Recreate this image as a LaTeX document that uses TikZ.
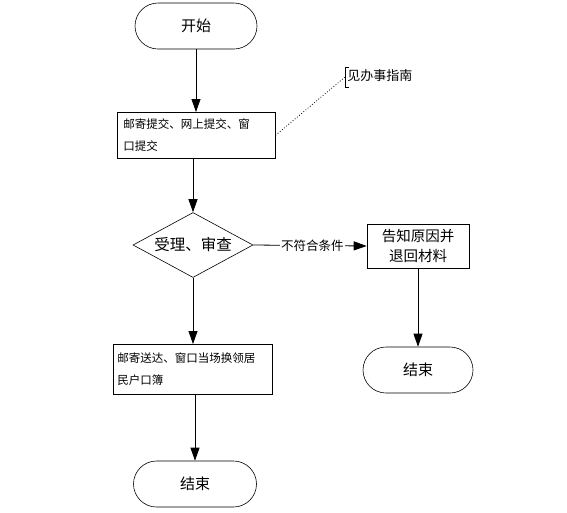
\documentclass[tikz,border=0pt]{standalone}
\usepackage{fontspec}
\setmainfont{Noto Sans CJK SC}
\usetikzlibrary{arrows.meta,shapes.geometric,shapes.misc,positioning}
\begin{document}
\begin{tikzpicture}[x=1pt,y=-1pt,
  term/.style={draw,rounded rectangle,minimum width=122pt,minimum height=46pt,inner sep=0pt,font=\fontsize{15}{18}\selectfont},
  procbox/.style={draw,rectangle,anchor=north west,inner sep=0pt,align=left,font=\fontsize{11.5}{22}\selectfont},
  decide/.style={draw,diamond,aspect=1.85,minimum width=120pt,minimum height=65pt,inner sep=0pt,font=\fontsize{15.5}{18}\selectfont},
  flow/.style={-{Triangle[length=13pt,width=9pt]},line width=0.8pt},
  line width=0.6pt]
\useasboundingbox (0,0) rectangle (567,512);
\fill[white] (0,0) rectangle (567,512);
\node[term] (start) at (196,26) {开始};
\node[procbox,minimum width=158pt,minimum height=46pt,text width=150pt] (sub) at (117,112) {\hspace*{2pt}邮寄提交、网上提交、窗\\\hspace*{2pt}口提交};
\node[decide] (chk) at (193,245) {受理、审查};
\node[draw,rectangle,minimum width=102pt,minimum height=44pt,inner sep=0pt,align=center,font=\fontsize{14.5}{20}\selectfont] (rej) at (418,246) {告知原因并\\退回材料};
\node[term,minimum width=110pt] (end2) at (418,370) {结束};
\node[procbox,minimum width=159pt,minimum height=50pt,text width=155pt] (del) at (113,344) {\hspace*{2pt}邮寄送达、窗口当场换领居\\\hspace*{2pt}民户口簿};
\node[term,minimum width=123pt] (end1) at (195,484) {结束};
% annotation
\coordinate (ann) at (345,77);
\draw (349,67) -- (345,67) -- (345,87) -- (349,87);
\node[anchor=west,inner sep=0pt,font=\fontsize{13}{15}\selectfont] (anntext) at (347,76) {见办事指南};
\draw[dotted,line width=0.8pt] (sub.east) -- (ann);
% flows
\draw[flow] (start) -- (start|-sub.north);
\draw[flow] (sub.south-|chk) -- (chk.north);
\draw[flow] (chk.east) -- node[pos=0.52,fill=white,inner sep=1pt,font=\fontsize{12.5}{14}\selectfont]{不符合条件} (rej.west);
\draw[flow] (rej) -- (end2);
\draw[flow] (chk.south) -- (chk.south|-del.north);
\draw[flow] (del.south-|end1) -- (end1.north);
\end{tikzpicture}
\end{document}
